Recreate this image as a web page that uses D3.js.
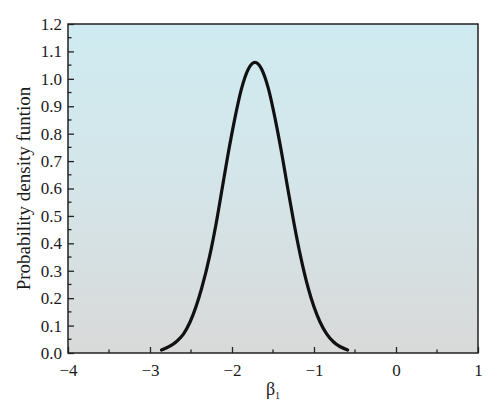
<!DOCTYPE html>
<html>
<head>
<meta charset="utf-8">
<script src="https://cdn.jsdelivr.net/npm/d3@7"></script>
<style>
  body { margin: 0; background: #fff; }
  text { font-family: "Liberation Serif", "DejaVu Serif", serif; fill: #1a1a1a; }
</style>
</head>
<body>
<svg id="chart" width="500" height="417"></svg>
<script>
// curve (beta_1, density)
const betaValues = [-2.86, -2.68, -2.59, -2.51, -2.37, -2.27, -2.19, -2.12, -2.05, -1.973, -1.883, -1.802,
                    -1.72, -1.638, -1.557, -1.467, -1.39, -1.32, -1.247, -1.167, -1.07, -0.928, -0.846, -0.764, -0.59];
const densityValues = [0.011, 0.041, 0.07, 0.114, 0.236, 0.357, 0.478, 0.600, 0.722, 0.844, 0.965, 1.035,
                       1.060, 1.035, 0.965, 0.844, 0.722, 0.600, 0.478, 0.357, 0.236, 0.114, 0.07, 0.041, 0.011];
const xTicks = [-4, -3, -2, -1, 0, 1];
const yTicks = [0, 0.1, 0.2, 0.3, 0.4, 0.5, 0.6, 0.7, 0.8, 0.9, 1.0, 1.1, 1.2];

const margin = {top: 24, right: 22, bottom: 64, left: 68};
const width = 500, height = 417;

const svg = d3.select("#chart");

const x = d3.scaleLinear().domain([-4, 1]).range([margin.left, width - margin.right]);
const y = d3.scaleLinear().domain([0, 1.2]).range([height - margin.bottom, margin.top]);

// background gradient
const grad = svg.append("defs").append("linearGradient")
    .attr("id", "bg").attr("x1", 0).attr("y1", 0).attr("x2", 0).attr("y2", 1);
grad.append("stop").attr("offset", "0%").attr("stop-color", "#cfebf1");
grad.append("stop").attr("offset", "45%").attr("stop-color", "#d4e6ea");
grad.append("stop").attr("offset", "100%").attr("stop-color", "#d9d9d9");

svg.append("rect")
    .attr("x", x(-4)).attr("y", y(1.2))
    .attr("width", x(1) - x(-4)).attr("height", y(0) - y(1.2))
    .attr("fill", "url(#bg)");

// minor ticks
const xMinor = d3.range(-3.5, 1, 1);
const yMinor = d3.range(0.05, 1.2, 0.1);

const xAxis = d3.axisBottom(x).tickValues(xTicks).tickSizeInner(-6).tickSizeOuter(0)
    .tickPadding(11).tickFormat(d => d3.format("")(d).replace("-", "\u2212"));
const yAxis = d3.axisLeft(y).tickValues(yTicks).tickSizeInner(-6).tickSizeOuter(0)
    .tickPadding(6).tickFormat(d3.format(".1f"));

const gx = svg.append("g").attr("transform", `translate(0,${y(0)})`).call(xAxis);
gx.selectAll(".minorX").data(xMinor).join("line")
    .attr("x1", d => x(d)).attr("x2", d => x(d)).attr("y1", 0).attr("y2", -3.5)
    .attr("stroke", "#222").attr("stroke-width", 1.3);

const gy = svg.append("g").attr("transform", `translate(${x(-4)},0)`).call(yAxis);
gy.selectAll(".minorY").data(yMinor).join("line")
    .attr("y1", d => y(d)).attr("y2", d => y(d)).attr("x1", 0).attr("x2", 3.5)
    .attr("stroke", "#222").attr("stroke-width", 1.3);

[gx, gy].forEach(g => {
    g.select(".domain").remove();
    g.selectAll(".tick line").attr("stroke", "#222").attr("stroke-width", 1.3);
    g.selectAll(".tick text").attr("font-size", 17).attr("fill", "#1a1a1a")
        .style("font-family", "'Liberation Serif', serif");
});

// frame
svg.append("rect")
    .attr("x", x(-4)).attr("y", y(1.2))
    .attr("width", x(1) - x(-4)).attr("height", y(0) - y(1.2))
    .attr("fill", "none").attr("stroke", "#222").attr("stroke-width", 1.5);

// density curve
const pts = betaValues.map((b, i) => [b, densityValues[i]]);
const line = d3.line().x(d => x(d[0])).y(d => y(d[1])).curve(d3.curveMonotoneX);
svg.append("path")
    .datum(pts)
    .attr("d", line)
    .attr("fill", "none")
    .attr("stroke", "#111")
    .attr("stroke-width", 3.2)
    .attr("stroke-linecap", "round");

// axis titles
const xt = svg.append("text")
    .attr("x", (x(-4) + x(1)) / 2).attr("y", 395)
    .attr("text-anchor", "middle").attr("font-size", 18);
xt.append("tspan").text("\u03b2");
xt.append("tspan").attr("font-size", 10).attr("dy", 4).text("1");

svg.append("text")
    .attr("transform", `translate(30,${(y(0) + y(1.2)) / 2}) rotate(-90)`)
    .attr("text-anchor", "middle").attr("font-size", 19)
    .text("Probability density funtion");
</script>
</body>
</html>
